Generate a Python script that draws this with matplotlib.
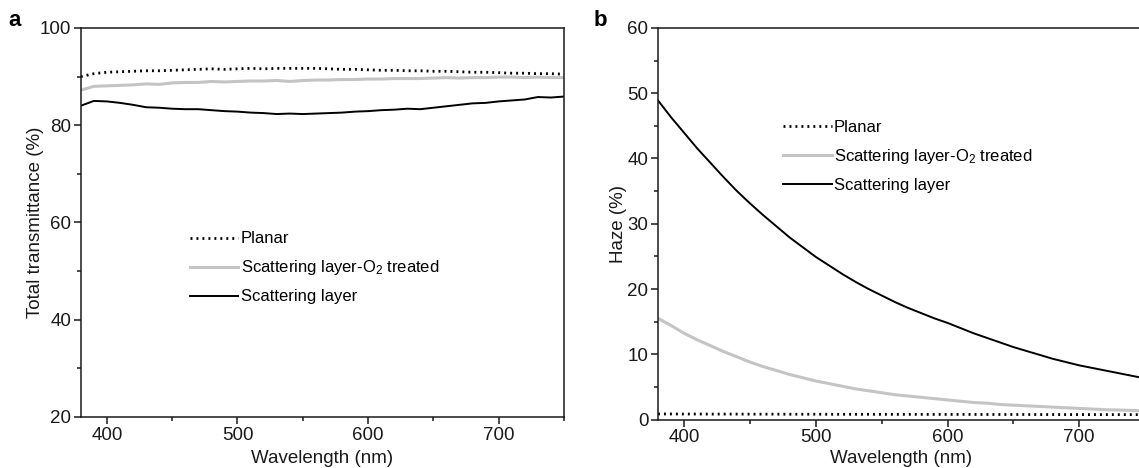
import numpy as np
import matplotlib
matplotlib.use("Agg")
import matplotlib.pyplot as plt
from matplotlib.ticker import MultipleLocator

plt.rcParams['font.family'] = ['Liberation Sans', 'DejaVu Sans']
plt.rcParams['mathtext.fontset'] = 'custom'
plt.rcParams['mathtext.rm'] = 'Liberation Sans'
plt.rcParams['mathtext.it'] = 'Liberation Sans:italic'
plt.rcParams['mathtext.bf'] = 'Liberation Sans:bold'

# Wavelength grid (nm)
wavelength = list(range(380, 751, 10))

# Total transmittance (%)
trans_planar = [90.0, 90.6, 90.9, 91.0, 91.1, 91.2, 91.2, 91.3, 91.4, 91.5,
                91.6, 91.5, 91.6, 91.7, 91.6, 91.7, 91.7, 91.7, 91.7, 91.6,
                91.5, 91.5, 91.4, 91.3, 91.3, 91.2, 91.2, 91.1, 91.1, 91.0,
                90.9, 90.9, 90.8, 90.7, 90.7, 90.6, 90.6, 90.5]
trans_o2 = [87.2, 88.0, 88.1, 88.2, 88.3, 88.5, 88.4, 88.7, 88.8, 88.8,
            89.0, 88.9, 89.0, 89.1, 89.1, 89.2, 89.0, 89.2, 89.3, 89.3,
            89.4, 89.4, 89.5, 89.5, 89.6, 89.6, 89.6, 89.7, 89.8, 89.7,
            89.8, 89.8, 89.9, 89.9, 89.8, 89.9, 89.8, 89.8]
trans_scat = [84.0, 85.0, 84.9, 84.6, 84.2, 83.7, 83.6, 83.4, 83.3, 83.3,
              83.1, 82.9, 82.8, 82.6, 82.5, 82.3, 82.4, 82.3, 82.4, 82.5,
              82.6, 82.8, 82.9, 83.1, 83.2, 83.4, 83.3, 83.6, 83.9, 84.2,
              84.5, 84.6, 84.9, 85.1, 85.3, 85.8, 85.7, 85.9]

# Haze (%)
haze_planar = [0.85, 0.85, 0.84, 0.84, 0.83, 0.83, 0.83, 0.82, 0.82, 0.82,
               0.81, 0.81, 0.81, 0.80, 0.80, 0.80, 0.80, 0.79, 0.79, 0.79,
               0.79, 0.78, 0.78, 0.78, 0.78, 0.77, 0.77, 0.77, 0.77, 0.76,
               0.76, 0.76, 0.76, 0.75, 0.75, 0.75, 0.75, 0.75]
haze_o2 = [15.5, 14.4, 13.2, 12.2, 11.3, 10.4, 9.6, 8.8, 8.1, 7.5,
           6.9, 6.4, 5.9, 5.5, 5.1, 4.7, 4.4, 4.1, 3.8, 3.6,
           3.4, 3.2, 3.0, 2.8, 2.6, 2.5, 2.3, 2.2, 2.1, 2.0,
           1.9, 1.8, 1.7, 1.6, 1.5, 1.45, 1.4, 1.3]
haze_scat = [48.9, 46.3, 43.9, 41.5, 39.3, 37.1, 35.0, 33.1, 31.3, 29.6,
             27.9, 26.4, 24.9, 23.6, 22.3, 21.1, 20.0, 19.0, 18.0, 17.1,
             16.3, 15.5, 14.8, 14.0, 13.2, 12.5, 11.8, 11.1, 10.5, 9.9,
             9.3, 8.8, 8.3, 7.9, 7.5, 7.1, 6.7, 6.3]

labels = ["Planar", "Scattering layer-O$_2$ treated", "Scattering layer"]
GRAY = "#c4c4c4"
FS_TICK = 13.5
FS_LABEL = 13.5
FS_LEG = 12

fig = plt.figure(figsize=(11.39, 4.68), dpi=100)
ax_a = fig.add_axes([0.0709, 0.1090, 0.4243, 0.8312])
ax_b = fig.add_axes([0.5777, 0.1036, 0.4276, 0.8366])


def style_axes(ax, ylim, ymajor, yminor, show_right, xpad):
    ax.set_xlim(380, 750)
    ax.set_ylim(*ylim)
    ax.xaxis.set_major_locator(MultipleLocator(100))
    ax.xaxis.set_minor_locator(MultipleLocator(50))
    ax.yaxis.set_major_locator(MultipleLocator(ymajor))
    ax.yaxis.set_minor_locator(MultipleLocator(yminor))
    ax.tick_params(which='major', direction='out', length=5, width=1.1,
                   labelsize=FS_TICK, pad=2, colors='#1a1a1a')
    ax.tick_params(which='minor', direction='out', length=3, width=1.1,
                   colors='#1a1a1a')
    ax.tick_params(top=False, right=False, which='both')
    for sp in ax.spines.values():
        sp.set_linewidth(1.1)
        sp.set_color('#1a1a1a')
    ax.spines['right'].set_visible(show_right)
    ax.set_xlabel("Wavelength (nm)", fontsize=FS_LABEL, labelpad=xpad,
                  color='#1a1a1a')


def draw(ax, y_planar, y_o2, y_scat):
    ax.plot(wavelength, y_planar, color='black', lw=2.0,
            linestyle=(0, (0.7, 1.45)), label=labels[0])
    ax.plot(wavelength, y_o2, color=GRAY, lw=2.2, label=labels[1])
    ax.plot(wavelength, y_scat, color='black', lw=1.4, label=labels[2])


legend_kw = dict(loc='upper left', frameon=False, fontsize=FS_LEG,
                 handlelength=2.9, handletextpad=0.15, labelspacing=0.72,
                 borderpad=0, borderaxespad=0)

# Panel a: total transmittance
draw(ax_a, trans_planar, trans_o2, trans_scat)
style_axes(ax_a, (20, 100), 20, 10, True, 4.5)
ax_a.set_ylabel("Total transmittance (%)", fontsize=FS_LABEL, labelpad=-3,
                color='#1a1a1a')
ax_a.legend(bbox_to_anchor=(0.226, 0.477), **legend_kw)

# Panel b: haze
draw(ax_b, haze_planar, haze_o2, haze_scat)
style_axes(ax_b, (0, 60), 10, 5, False, 2.5)
ax_b.set_ylabel("Haze (%)", fontsize=FS_LABEL, labelpad=0, color='#1a1a1a')
ax_b.legend(bbox_to_anchor=(0.257, 0.765), **legend_kw)

fig.text(15 / 1139, 1 - 20 / 468, "a", fontsize=16, fontweight='bold',
         ha='center', va='center')
fig.text(600 / 1139, 1 - 20 / 468, "b", fontsize=16, fontweight='bold',
         ha='center', va='center')

fig.savefig("out.png", dpi=100)
